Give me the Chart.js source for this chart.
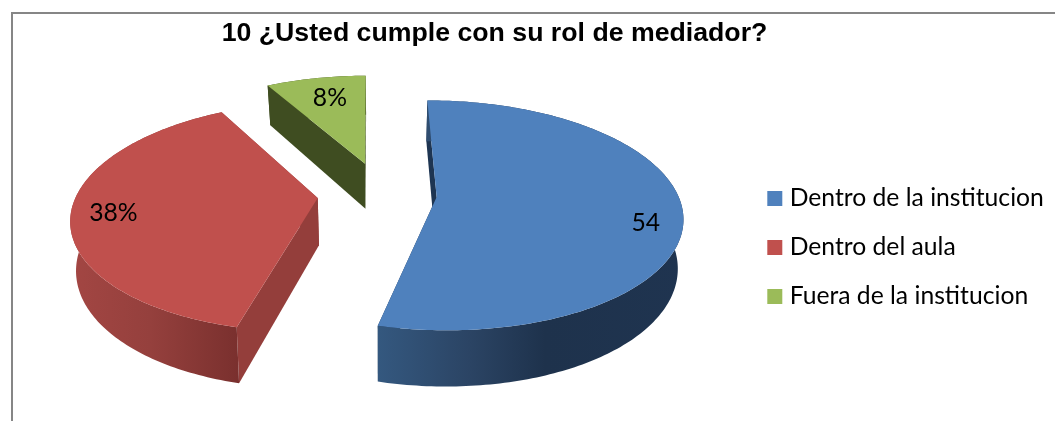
<!DOCTYPE html>
<html><head><meta charset="utf-8">
<style>html,body{margin:0;padding:0;background:#fff}#w{width:1055px;height:421px;position:relative}</style>
<script src="https://cdn.jsdelivr.net/npm/chart.js@4/dist/chart.umd.min.js"></script>
</head><body><div id="w"><canvas id="c" width="1055" height="421"></canvas></div>
<script>
const categories = ['Dentro de la institucion','Dentro del aula','Fuera de la institucion'];
const values = [54,38,8];
const valueLabels = ['54','38%','8%'];
const chartTitle = '10 ¿Usted cumple con su rol de mediador?';
const colors = ['#4f81bd','#c0504d','#9bbb59'];
const explode = [22.5,27,29.5];
const cutColors = ['#1e3552','#943e3b','#3f4d21'];
const rimStops = [
  [[378,'#34587f'],[470,'#2b4464'],[545,'#1e324c'],[690,'#1f3450']],
  [[70,'#a34643'],[150,'#95403d'],[238,'#7a302e']],
  [[260,'#3f4d21'],[370,'#3f4d21']]
];
const labelFrac = [0.855,0.83,0.74];
const labelDeg = [8.5,-1.5,1];
const V = {R:241,K:111,p:0.16,H:47,cy:194,tilt:-0.1,dx:8};

function proj(cx,u,w,h){
  const s=1/(1-V.p*w);
  return [cx+V.dx+V.R*u*s+h*V.tilt*u, V.cy+V.K*w*s+h*s];
}
const pie3d={
  id:'pie3d',
  beforeDraw(ch){
    const c=ch.ctx;c.save();c.strokeStyle='#868686';c.lineWidth=2;
    c.beginPath();c.moveTo(12,421);c.lineTo(12,13);c.lineTo(1055,13);c.stroke();c.restore();
  },
  afterLayout(ch){
    const t=ch.titleBlock;t.left-=33;t.right-=33;
    const l=ch.legend;const dx=748-l.left;
    l.left+=dx;l.right+=dx;l.top+=39;l.bottom+=39;
  },
  beforeDatasetDraw(ch,args){
    const c=ch.ctx,els=args.meta.data,order=[2,1,0];
    for(const i of order){
      const el=els[i],a0=el.startAngle,a1=el.endAngle,mid=(a0+a1)/2,e=el.options.offset/100;
      const ox=Math.cos(mid)*e,oz=Math.sin(mid)*e,cx=el.x;
      const P=(a,h)=>proj(cx,ox+Math.cos(a),oz+Math.sin(a),h),A=h=>proj(cx,ox,oz,h);
      const path=pts=>{c.beginPath();pts.forEach((p,k)=>k?c.lineTo(p[0],p[1]):c.moveTo(p[0],p[1]));c.closePath();};
      const H=V.H;
      c.fillStyle=cutColors[i];
      path([A(0),P(a0,0),P(a0,H),A(H)]);c.fill();
      path([A(0),P(a1,0),P(a1,H),A(H)]);c.fill();
      const n=Math.ceil((a1-a0)/(Math.PI/180)),top=[],bot=[];
      for(let k=0;k<=n;k++){const a=a0+(a1-a0)*k/n;top.push(P(a,0));bot.unshift(P(a,H));}
      const stops=rimStops[i],g=c.createLinearGradient(stops[0][0],0,stops[stops.length-1][0],0);
      const x0=stops[0][0],x1=stops[stops.length-1][0];
      stops.forEach(s=>g.addColorStop((s[0]-x0)/(x1-x0),s[1]));
      c.fillStyle=g;path(top.concat(bot));c.fill();
      c.fillStyle=colors[i];path([A(0)].concat(top));c.fill();
    }
    return false;
  },
  afterDatasetsDraw(ch){
    const c=ch.ctx,els=ch.getDatasetMeta(0).data;
    c.save();c.fillStyle='#000';c.font='24.7px Lato';c.textAlign='center';c.textBaseline='middle';
    els.forEach((el,i)=>{
      const mid=(el.startAngle+el.endAngle)/2,e=el.options.offset/100,f=labelFrac[i],la=mid+labelDeg[i]*Math.PI/180;
      const p=proj(el.x,e*Math.cos(mid)+f*Math.cos(la),e*Math.sin(mid)+f*Math.sin(la),0);
      c.fillText(valueLabels[i],p[0],p[1]);
    });
    c.restore();
  }
};
new Chart(document.getElementById('c'),{
  type:'pie',
  data:{labels:categories,datasets:[{data:values,backgroundColor:colors,borderWidth:0,offset:explode}]},
  plugins:[pie3d],
  options:{
    responsive:false,animation:false,rotation:-0.5,
    layout:{padding:{top:6,bottom:10,left:0,right:0}},
    plugins:{
      tooltip:{enabled:false},
      title:{display:true,text:chartTitle,color:'#000',font:{family:'"Liberation Sans"',size:26.7,weight:'bold'},padding:{top:12,bottom:10}},
      legend:{position:'right',labels:{color:'#000',font:{family:'Lato',size:24.7},usePointStyle:true,pointStyle:'rect',boxWidth:5,boxHeight:15,padding:24.3}}
    }
  }
});
</script></body></html>
